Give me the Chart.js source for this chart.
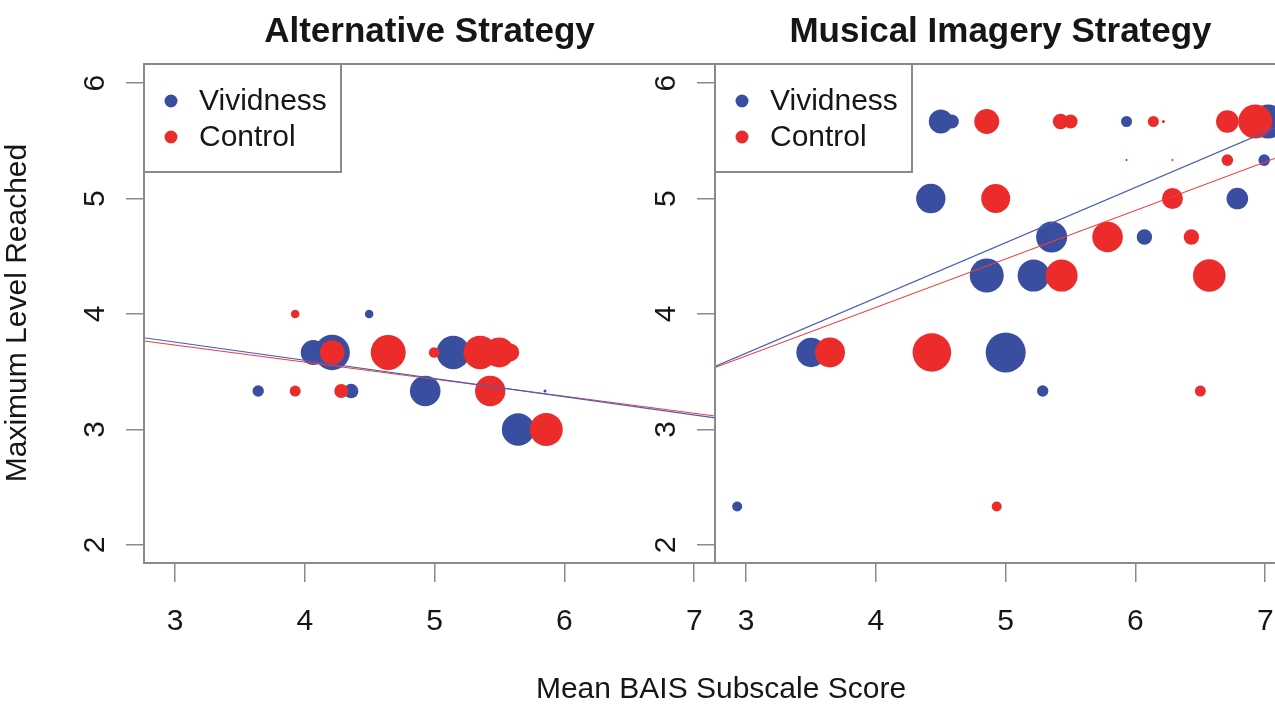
<!DOCTYPE html>
<html>
<head>
<meta charset="utf-8">
<script src="https://cdn.jsdelivr.net/npm/chart.js@4.4.1/dist/chart.umd.min.js"></script>
<style>
  html, body { margin: 0; padding: 0; background: #fff; overflow: hidden; }
  #wrap { position: relative; width: 1275px; height: 705px; overflow: hidden; }
  #altChart { position: absolute; left: 0; top: 0; }
  #musChart { position: absolute; left: 571px; top: 0; }
</style>
</head>
<body>
<div id="wrap">
  <canvas id="altChart" width="1275" height="705"></canvas>
  <canvas id="musChart" width="775" height="705"></canvas>
</div>
<script>
"use strict";

var panelTitles = ['Alternative Strategy', 'Musical Imagery Strategy'];
var groupNames = ['Vividness', 'Control'];
var xTicks = [3, 4, 5, 6, 7];
var yTicks = [2, 3, 4, 5, 6];
var xTitle = 'Mean BAIS Subscale Score';
var yTitle = 'Maximum Level Reached';

// Alternative strategy panel
var altVividX = [4.495, 4.064, 4.21, 5.143, 3.64, 4.356, 4.927, 5.85, 5.643];
var altVividY = [4.0, 3.667, 3.667, 3.667, 3.333, 3.333, 3.333, 3.333, 3.0];
var altVividR = [4.3, 12.5, 17.7, 16.7, 5.7, 7.3, 15.3, 1.5, 16.3];

var altControlX = [3.925, 4.21, 4.642, 4.996, 5.35, 5.497, 5.582, 3.925, 4.28, 5.428, 5.86];
var altControlY = [4.0, 3.667, 3.667, 3.667, 3.667, 3.667, 3.667, 3.333, 3.333, 3.333, 3.0];
var altControlR = [4.3, 12.3, 17.5, 5.3, 16.7, 15, 9, 5.5, 7, 15.2, 16.5];

// Musical imagery strategy panel
var musVividX = [4.5, 4.585, 5.931, 7.023, 5.931, 6.992, 4.423, 6.785, 5.354, 6.069, 4.854, 5.215, 3.5, 5.0, 5.285, 2.931];
var musVividY = [5.667, 5.667, 5.667, 5.667, 5.333, 5.333, 5.0, 5.0, 4.667, 4.667, 4.333, 4.333, 3.667, 3.667, 3.333, 2.333];
var musVividR = [12, 7, 5.5, 17, 1, 5.8, 14.7, 10.8, 15.5, 7.7, 17, 16, 14.7, 20, 5.7, 5];

var musControlX = [4.854, 5.423, 5.5, 6.138, 6.215, 6.708, 6.923, 6.285, 6.708, 4.923, 6.285, 5.785, 6.431, 5.431, 6.569, 3.646, 4.431, 6.5, 4.931];
var musControlY = [5.667, 5.667, 5.667, 5.667, 5.667, 5.667, 5.667, 5.333, 5.333, 5.0, 5.0, 4.667, 4.667, 4.333, 4.333, 3.667, 3.667, 3.333, 2.333];
var musControlR = [12.5, 7.8, 7, 5.5, 1.5, 11.3, 17, 1, 5.8, 14.5, 10.5, 15.3, 7.7, 16, 16.3, 15, 19.3, 5.5, 5];

// fitted lines (value at left and right edge of the plot)
var fitX = [2.76, 7.16];
var altVividFit = [3.794, 3.101];
var altControlFit = [3.767, 3.117];
var musVividFit = [3.546, 5.651];
var musControlFit = [3.536, 5.384];

var xRange = [2.76, 7.16];
var yRange = [1.844, 6.165];

var BLUE = '#3A4E9F';
var RED = '#EC2B2B';
var GREY = '#8a8a8a';
var INK = '#161616';
var FONT = '"Liberation Sans", Arial, Helvetica, sans-serif';

function bubbles(xs, ys, rs) {
    return xs.map(function (x, i) { return { x: x, y: ys[i], r: rs[i] }; });
}

function fitLine(ys) {
    return fitX.map(function (x, i) { return { x: x, y: ys[i] }; });
}

function buildDatasets(vx, vy, vr, cx, cy, cr, vFit, cFit) {
    return [
        { type: 'line', label: 'fit ' + groupNames[0], data: fitLine(vFit), borderColor: '#4a5cb8', borderWidth: 1.1, pointRadius: 0, fill: false, order: 0 },
        { type: 'line', label: 'fit ' + groupNames[1], data: fitLine(cFit), borderColor: '#f03c3c', borderWidth: 1.1, pointRadius: 0, fill: false, order: 0 },
        { type: 'bubble', label: groupNames[1], data: bubbles(cx, cy, cr), backgroundColor: RED, borderWidth: 0, order: 1 },
        { type: 'bubble', label: groupNames[0], data: bubbles(vx, vy, vr), backgroundColor: BLUE, borderWidth: 0, order: 2 }
    ];
}

var panelDecor = {
    id: 'panelDecor',
    afterDraw: function (chart, args, opts) {
        var ctx = chart.ctx, a = chart.chartArea;
        ctx.save();
        ctx.strokeStyle = GREY;
        ctx.lineWidth = 2;
        ctx.strokeRect(a.left, a.top, a.right - a.left, a.bottom - a.top);

        ctx.fillStyle = INK;
        ctx.textAlign = 'center';
        ctx.textBaseline = 'middle';
        ctx.font = 'bold 35px ' + FONT;
        ctx.fillText(opts.title, (a.left + a.right) / 2, 32);

        // legend box
        ctx.fillStyle = '#fff';
        ctx.fillRect(a.left, a.top, 197, 108);
        ctx.strokeRect(a.left, a.top, 197, 108);
        var colors = [BLUE, RED];
        ctx.font = '30px ' + FONT;
        ctx.textAlign = 'left';
        groupNames.forEach(function (name, i) {
            var cy = a.top + 37 + i * 36;
            ctx.fillStyle = colors[i];
            ctx.beginPath();
            ctx.arc(a.left + 27, cy, 6.5, 0, Math.PI * 2);
            ctx.fill();
            ctx.fillStyle = INK;
            ctx.fillText(name, a.left + 55, cy + 1);
        });

        if (opts.axisTitles) {
            ctx.font = '30px ' + FONT;
            ctx.textAlign = 'center';
            ctx.fillText(xTitle, 721, 690);
            ctx.translate(18, 313);
            ctx.rotate(-Math.PI / 2);
            ctx.fillText(yTitle, 0, 0);
        }
        ctx.restore();
    }
};

function makeScales() {
    return {
        x: {
            type: 'linear', min: xRange[0], max: xRange[1],
            afterBuildTicks: function (s) { s.ticks = xTicks.map(function (v) { return { value: v }; }); },
            afterFit: function (s) { s.height = 142; },
            border: { display: true, color: GREY, width: 2 },
            grid: { drawOnChartArea: false, drawTicks: true, tickLength: 19, color: GREY, lineWidth: 1.5 },
            ticks: { padding: 22, autoSkip: false, maxRotation: 0, color: INK, font: { size: 30, family: FONT } }
        },
        y: {
            type: 'linear', min: yRange[0], max: yRange[1],
            afterBuildTicks: function (s) { s.ticks = yTicks.map(function (v) { return { value: v }; }); },
            afterFit: function (s) { s.width = 144; },
            border: { display: true, color: GREY, width: 2 },
            grid: { drawOnChartArea: false, drawTicks: true, tickLength: 18, color: GREY, lineWidth: 1.5 },
            ticks: { padding: 22, autoSkip: false, minRotation: 90, maxRotation: 90, crossAlign: 'center', color: INK, font: { size: 30, family: FONT } }
        }
    };
}

function makeChart(id, datasets, title, padRight, axisTitles) {
    return new Chart(document.getElementById(id), {
        type: 'bubble',
        data: { datasets: datasets },
        options: {
            responsive: false,
            animation: false,
            events: [],
            layout: { padding: { left: 0, top: 64, right: padRight, bottom: 0 } },
            scales: makeScales(),
            plugins: {
                legend: { display: false },
                tooltip: { enabled: false },
                title: { display: false },
                panelDecor: { title: title, axisTitles: axisTitles }
            }
        },
        plugins: [panelDecor]
    });
}

makeChart('altChart',
    buildDatasets(altVividX, altVividY, altVividR, altControlX, altControlY, altControlR, altVividFit, altControlFit),
    panelTitles[0], 560, true);

makeChart('musChart',
    buildDatasets(musVividX, musVividY, musVividR, musControlX, musControlY, musControlR, musVividFit, musControlFit),
    panelTitles[1], 60, false);
</script>
</body>
</html>
